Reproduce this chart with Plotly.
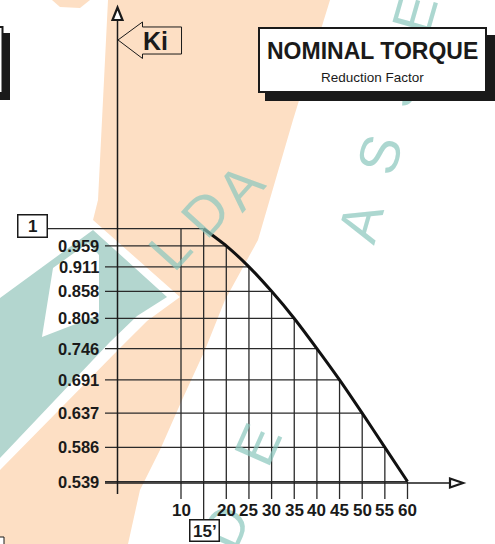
import math
import plotly.graph_objects as go

# Ki reduction factor
minutes = [15, 20, 25, 30, 35, 40, 45, 50, 55, 60]
ki = [1, 0.959, 0.911, 0.858, 0.803, 0.746, 0.691, 0.637, 0.586, 0.539]
ki_labels = ['1', '0.959', '0.911', '0.858', '0.803', '0.746', '0.691', '0.637', '0.586', '0.539']
x_ticks = [10, 20, 25, 30, 35, 40, 45, 50, 55, 60]
x_tick_labels = ['10', '20', '25', '30', '35', '40', '45', '50', '55', '60']
start_label = '15’'

W, H = 495, 544
# pixel mapping of the drawing: px = X0 + XS*min, py = Y0 - YS*log10(ki)
X0, XS = 135.7, 4.53
Y0, YS = 228.7, 942.0

def xdata(p):
    return (p - X0) / XS

def ydata(p):
    return 10 ** ((Y0 - p) / YS)

def px(p):
    return p / W

def py(p):
    return 1 - p / H

def ring(points):
    return 'M ' + ' L '.join('%.4f %.4f' % (px(a), py(b)) for a, b in points) + ' Z'

def poly(*rings):
    return ' '.join(ring(r) for r in rings)

INK = '#1a1a1a'
FONT = 'Liberation Sans, Arial'
PEACH = '#FDDFC4'
TEAL = '#B3D6CF'
WM = 'rgba(140,200,190,0.72)'

# grid lines below the curve
gx, gy = [], []
for m, k in zip(minutes, ki):
    left = xdata(48) if k == max(ki) else xdata(105)
    gx += [left, m, None]
    gy += [k, k, None]
for t in sorted(set(x_ticks + minutes)):
    top = ki[minutes.index(t)] if t in minutes else max(ki)
    bottom = ydata(519) if t == minutes[0] else ydata(499)
    gx += [t, t, None]
    gy += [bottom, top, None]

fig = go.Figure()
fig.add_trace(go.Scatter(x=gx, y=gy, mode='lines', line=dict(color='#2a2a2a', width=1.3),
                         hoverinfo='skip', showlegend=False))
fig.add_trace(go.Scatter(x=minutes, y=ki, mode='lines',
                         line=dict(color='#111111', width=3, shape='spline', smoothing=0.6),
                         hoverinfo='skip', showlegend=False))

def bg(color, *rings):
    return dict(type='path', xref='paper', yref='paper', layer='below', line_width=0,
                fillcolor=color, fillrule='evenodd', path=poly(*rings))

shapes = [
    # watermark background: peach band, teal diamond with a white notch
    bg(PEACH, [(108, 0), (330, 0), (293, 120), (258, 240), (225, 300), (205, 350), (182, 400),
               (160, 450), (140, 490), (128, 544), (0, 544), (0, 470), (120, 348), (147, 321),
               (180, 297), (93, 220), (98, 200)]),
    bg(PEACH, [(52, 0), (90, 0), (80, 8), (60, 7)]),
    bg(TEAL, [(0, 298), (93, 230), (167, 297), (137, 316), (110, 342), (0, 458)],
       [(53, 268), (88, 243), (99, 255), (99, 315), (42, 337)]),
    # axes
    dict(type='line', xref='paper', yref='paper', x0=px(117.5), x1=px(117.5), y0=py(494), y1=py(20),
         line=dict(color=INK, width=1.5)),
    dict(type='line', xref='paper', yref='paper', x0=px(105), x1=px(450), y0=py(483), y1=py(483),
         line=dict(color=INK, width=1.5)),
    dict(type='path', xref='paper', yref='paper', fillcolor='white', line=dict(color=INK, width=2.2),
         path=ring([(112.5, 20), (117.5, 7.5), (122.5, 20)])),
    dict(type='path', xref='paper', yref='paper', fillcolor='white', line=dict(color=INK, width=2.2),
         path=ring([(450, 478.5), (463, 483), (450, 487.5)])),
    # Ki arrow label
    dict(type='path', xref='paper', yref='paper', line=dict(color=INK, width=1),
         path=ring([(118, 40), (142.5, 22), (142.5, 27), (181.5, 27), (181.5, 54),
                    (142.5, 54), (142.5, 58.5)])),
    # cut-off boxes on the left edge
    dict(type='rect', xref='paper', yref='paper', x0=px(0), x1=px(10), y0=py(33), y1=py(100),
         fillcolor=INK, line_width=0),
    dict(type='rect', xref='paper', yref='paper', x0=px(-6), x1=px(2.5), y0=py(27), y1=py(93),
         fillcolor='white', line=dict(color=INK, width=2)),
    dict(type='rect', xref='paper', yref='paper', x0=px(-6), x1=px(4), y0=py(537), y1=py(550),
         fillcolor='white', line=dict(color=INK, width=1)),
]

ann = []

def label(x, y, text, size, **kw):
    d = dict(xref='paper', yref='paper', x=px(x), y=py(y), text=text, showarrow=False,
             xanchor='center', yanchor='middle', font=dict(family=FONT, size=size, color=INK))
    d.update(kw)
    return d

# watermark letters (drawn first so the boxes cover them)
for ch, x, y, ang in [('L', 170, 250, -48), ('D', 205, 213, -48), ('A', 240, 186, -48),
                      ('A', 360, 222, -74), ('S', 379, 155, -74), ('S', 397, 88, -74), ('E', 414, 14, -74),
                      ('E', 257, 445, -66), ('D', 225, 527, -66)]:
    lab = label(x, y, ch, 56, textangle=ang)
    lab['font']['color'] = WM
    ann.append(lab)

def box(x0, y0, x1, y1, fill, bw):
    return label((x0 + x1) / 2, (y0 + y1) / 2, ' ', 10, width=x1 - x0 - 2 * bw, height=y1 - y0 - 2 * bw,
                 borderpad=0, bgcolor=fill, bordercolor=INK, borderwidth=bw)

# title box with drop shadow, boxed labels
ann.append(box(265, 35, 495, 101, INK, 0))
ann.append(box(258, 27, 487, 93, 'white', 2))
ann.append(box(16.7, 214, 47.7, 237.5, 'white', 1.5))
ann.append(box(189, 519, 220, 542, 'white', 1.5))

ann.append(label(372.5, 51, '<b>NOMINAL TORQUE</b>', 23))
ann.append(label(372, 77.5, 'Reduction Factor', 13.5))
ann.append(label(155, 40.5, '<b>Ki</b>', 25))

for lab, k in zip(ki_labels[1:], ki[1:]):
    ann.append(dict(xref='paper', yref='y', x=px(101), y=math.log10(k), text='<b>' + lab + '</b>',
                    showarrow=False, xanchor='right', yanchor='middle',
                    font=dict(family=FONT, size=16.5, color=INK)))
ann.append(label(32.2, 226, '<b>' + ki_labels[0] + '</b>', 17))
for lab, t in zip(x_tick_labels, x_ticks):
    ann.append(dict(xref='x', yref='paper', x=t, y=py(510), text='<b>' + lab + '</b>', showarrow=False,
                    xanchor='center', yanchor='middle', font=dict(family=FONT, size=17, color=INK)))
ann.append(label(204.5, 531, '<b>' + start_label + '</b>', 17))

fig.update_layout(
    width=W, height=H,
    margin=dict(l=0, r=0, t=0, b=0),
    paper_bgcolor='white', plot_bgcolor='rgba(0,0,0,0)',
    xaxis=dict(range=[xdata(0), xdata(W)], visible=False, fixedrange=True),
    yaxis=dict(type='log', range=[math.log10(ydata(H)), math.log10(ydata(0))], visible=False, fixedrange=True),
    shapes=shapes, annotations=ann, showlegend=False,
)

fig.write_html('out.html', config={'displayModeBar': False},
               post_script="document.body.style.margin='0px';")
